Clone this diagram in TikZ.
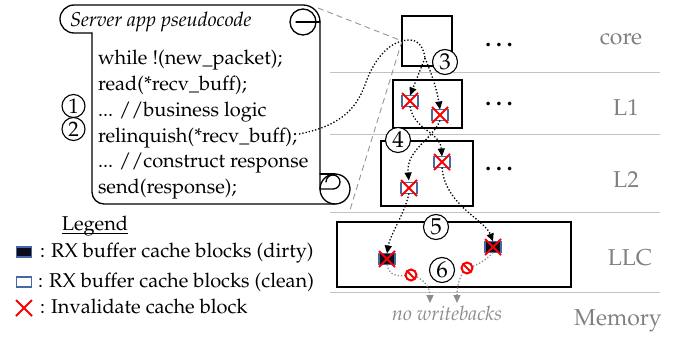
\documentclass[tikz,border=0pt]{standalone}
\usepackage[T1]{fontenc}
\usepackage{mathpazo}
\usetikzlibrary{arrows.meta,shapes.misc,calc}
\definecolor{lvlgray}{RGB}{128,128,128}
\definecolor{sepgray}{RGB}{195,195,195}
\definecolor{zoomgray}{RGB}{150,150,150}
\definecolor{blkblue}{RGB}{70,105,165}
\definecolor{dirtyfill}{RGB}{12,12,30}
\definecolor{xred}{RGB}{250,0,0}
\definecolor{wbgray}{RGB}{140,140,140}
\begin{document}
\begin{tikzpicture}[x=1pt,y=-1pt,
  every node/.style={inner sep=0pt,outer sep=0pt},
  code/.style={anchor=base west,font=\fontsize{20}{24}\selectfont},
  lvl/.style={anchor=base,text=lvlgray,font=\fontsize{23}{27}\selectfont},
  sep/.style={draw=sepgray,line width=0.9pt},
  scroll/.style={line width=1.3pt,line cap=round,line join=round},
  box/.style={draw,line width=1.4pt,rectangle},
  blk/.style={rectangle,draw=blkblue,line width=1.2pt,fill=white,minimum width=16pt,minimum height=11pt},
  dblk/.style={blk,fill=dirtyfill},
  xx/.style={cross out,draw=xred,line width=1.8pt,minimum width=16pt,minimum height=16pt},
  num/.style={circle,draw,line width=1.1pt,fill=white,minimum size=25pt,font=\fontsize{23}{23}\selectfont},
  smallnum/.style={num,minimum size=23pt,font=\fontsize{21}{21}\selectfont},
  dots/.style={anchor=base,font=\fontsize{23}{27}\selectfont\bfseries},
  flowline/.style={line width=1.3pt,dash pattern=on 1.3pt off 2pt},
  flow/.style={flowline,-{Triangle[length=8pt,width=7pt]}},
  wb/.style={flow,draw=wbgray},
  noentry/.style={circle,draw=xred,line width=2pt,fill=white,minimum size=11pt},
  slash/.style={draw=xred,line width=2pt},
  zoomline/.style={draw=zoomgray,line width=0.9pt,dash pattern=on 6pt off 4pt},
]
\useasboundingbox (0,0) rectangle (683,337);

% hierarchy separators and level names
\draw[sep] (330,72) -- (660,72);
\draw[sep] (330,134) -- (660,134);
\draw[sep] (330,212) -- (660,212);
\draw[sep] (330,292) -- (660,292);
\node[lvl] (lcore) at (621,45) {core};
\node[lvl] (ll1) at (626,115) {L1};
\node[lvl] (ll2) at (626,187) {L2};
\node[lvl] (lllc) at (630,265) {LLC};
\node[lvl] (lmem) at (618,325) {Memory};
\node[dots] (d0) at (499,47) {.\hspace{5pt}.\hspace{5pt}.};
\node[dots] (d1) at (499,105) {.\hspace{5pt}.\hspace{5pt}.};
\node[dots] (d2) at (499,170) {.\hspace{5pt}.\hspace{5pt}.};

% scroll with the pseudocode
\draw[scroll] (92,33) -- (74,33) arc[start angle=90,end angle=270,radius=14]
  -- (303,5) arc[start angle=270,end angle=360,radius=17] -- (320,189);
\draw[scroll] (92,33) -- (92,192) arc[start angle=180,end angle=90,radius=12] -- (335,204);
\draw[scroll] (303,22) circle[radius=13];
\draw[scroll] (296,22) -- (320,22);
\draw[scroll] (335,189) circle[radius=15];
\draw[scroll] (320,174) -- (335,174);
\draw[scroll] (320,189) -- (333,189) arc[start angle=90,end angle=-180,radius=7];

\node[anchor=base west,font=\fontsize{20}{24}\selectfont\itshape] (title) at (70,27) {Server app pseudocode};
\node[code] (c1) at (98,65) {while !(new\_packet);};
\node[code] (c2) at (98,90.5) {read(*recv\_buff);};
\node[code] (c3) at (98,116) {... //business logic};
\node[code] (c4) at (98,142) {relinquish(*recv\_buff);};
\node[code] (c5) at (98,167) {... //construct response};
\node[code] (c6) at (98,193) {send(response);};
\node[smallnum] (n1) at (73.5,106) {1};
\node[smallnum] (n2) at (73.5,129) {2};

% cache hierarchy boxes
\node[box,minimum width=50pt,minimum height=50pt] (core) at (427,41) {};
\node[box,minimum width=69pt,minimum height=48pt] (l1) at (427.5,104) {};
\node[box,minimum width=92pt,minimum height=65pt] (l2) at (427,173.5) {};
\node[box,minimum width=234pt,minimum height=65pt] (llc) at (454,254.5) {};

% zoom lines from the scroll to the core
\coordinate (zt) at (318,8);
\coordinate (zb) at (350,210);
\draw[zoomline] (zt) -- (core.west) -- (zb);

% RX buffer blocks
\node[blk] (L1a) at (410,101) {};
\node[blk] (L1b) at (440,115) {};
\node[blk] (L2a) at (442,162) {};
\node[blk] (L2b) at (409,188) {};
\node[dblk] (LLCa) at (387,259) {};
\node[dblk] (LLCb) at (493,247) {};

% relinquish flow through the hierarchy
\coordinate (rstart) at ($(c4.base east)+(2,-8)$);
\coordinate (split) at (425,58);
\draw[flowline] (rstart) .. controls (345,125) and (358,105) .. (366,82)
  .. controls (375,58) and (390,40) .. (410,40) .. controls (420,40) and (424,50) .. (split);
\draw[flow] (split) -- (L1a.north);
\draw[flow] (split) .. controls (432,75) and (437,90) .. (L1b.north);
\draw[flow] (L1a.south) .. controls (414,130) and (440,132) .. (L2a.north);
\draw[flow,shorten >=2pt] (L1b.south) .. controls (432,140) and (406,150) .. (L2b.north);
\draw[flow] (L2b.south) .. controls (404,215) and (390,235) .. (LLCa.north);
\draw[flow] (L2a.south) .. controls (445,205) and (485,220) .. (LLCb.north);

% dropped writebacks
\coordinate (s1) at (411,275);
\coordinate (s2) at (467,268);
\node[font=\fontsize{20}{24}\selectfont\itshape,text=wbgray] (nwb) at (447,313) {no writebacks};
\coordinate (wb1) at (430,303);
\coordinate (wb2) at (457,303);
\draw[wb] (LLCa.south) .. controls (389,276) and (398,277) .. (s1)
  .. controls (424,278) and (430,288) .. (wb1);
\draw[wb] (LLCb.south) .. controls (488,258) and (478,266) .. (s2)
  .. controls (460,274) and (457,285) .. (wb2);
\node[noentry] (ne1) at (s1) {};
\draw[slash] (ne1.135) -- (ne1.-45);
\node[noentry] (ne2) at (s2) {};
\draw[slash] (ne2.135) -- (ne2.-45);

% invalidations
\foreach \b in {L1a,L1b,L2a,L2b,LLCa,LLCb} { \node[xx] at (\b) {}; }

% step numbers
\node[num] (n3) at (445,62) {3};
\node[num] (n4) at (398,140) {4};
\node[num] (n5) at (436,227) {5};
\node[num] (n6) at (442,270) {6};

% legend
\node[font=\fontsize{20}{24}\selectfont,anchor=base] (leg) at (95,230) {Legend};
\draw[line width=0.8pt] ($(leg.base west)+(0,3)$) -- ($(leg.base east)+(0,3)$);
\node[dblk,minimum width=15pt,minimum height=10pt] (kd) at (24,252) {};
\node[code] (kdt) at (40,257) {: RX buffer cache blocks (dirty)};
\node[blk,minimum width=15pt,minimum height=10pt] (kc) at (24,282) {};
\node[code] (kct) at (38,287) {: RX buffer cache blocks (clean)};
\node[xx] (kx) at (24,308) {};
\node[code] (kxt) at (40,313) {: Invalidate cache block};
\end{tikzpicture}
\end{document}
